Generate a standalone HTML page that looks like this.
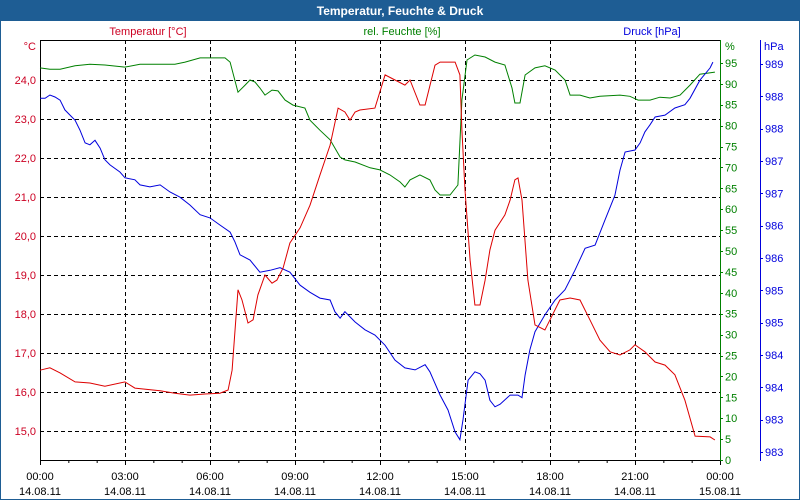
<!DOCTYPE html>
<html><head><meta charset="utf-8"><style>
body{margin:0;width:800px;height:500px;overflow:hidden;background:#fff;font-family:"Liberation Sans",sans-serif}
#win{position:absolute;left:0;top:0;width:798px;height:498px;border:1px solid #1e5d94;background:#fff}
#title{position:absolute;left:0;top:0;width:798px;height:20px;background:#1e5d94;color:#fff;font-weight:bold;font-size:12px;text-align:center;line-height:20px}
svg{position:absolute;left:0;top:0}
text{font-family:"Liberation Sans",sans-serif;font-size:11px}
</style></head><body>
<div id="win">
<div id="title">Temperatur, Feuchte &amp; Druck</div>
</div>
<svg id="c" width="800" height="500"></svg>
<script>
const xTicks=["00:00","03:00","06:00","09:00","12:00","15:00","18:00","21:00","00:00"];
const xDates=["14.08.11","14.08.11","14.08.11","14.08.11","14.08.11","14.08.11","14.08.11","14.08.11","15.08.11"];
const tempTicks=[15,16,17,18,19,20,21,22,23,24];
const humTicks=[0,5,10,15,20,25,30,35,40,45,50,55,60,65,70,75,80,85,90,95];
const presTickVals=[983,983.5,984,984.5,985,985.5,986,986.5,987,987.5,988,988.5,989];
const presTickLabels=["983","983","984","984","985","985","986","986","987","987","988","988","989"];
const tempT=[0,0.35,0.71,1.24,1.76,2.29,3.0,3.35,4.24,4.76,5.29,5.82,6.35,6.64,6.78,6.99,7.13,7.34,7.52,7.69,7.94,8.19,8.36,8.58,8.82,9.18,9.53,9.88,10.24,10.52,10.76,10.94,11.12,11.29,11.82,12.18,12.53,12.88,13.06,13.41,13.59,13.94,14.12,14.65,14.82,14.89,15.0,15.18,15.35,15.53,15.71,15.88,16.06,16.41,16.59,16.76,16.87,17.01,17.22,17.47,17.82,18.0,18.35,18.71,19.06,19.41,19.76,20.12,20.47,20.82,21.0,21.35,21.71,22.06,22.41,22.76,23.12,23.65,23.82];
const tempV=[16.56,16.62,16.49,16.26,16.23,16.15,16.26,16.10,16.03,15.97,15.92,15.95,15.97,16.05,16.56,18.62,18.36,17.77,17.85,18.49,19.0,18.79,18.87,19.18,19.82,20.21,20.79,21.56,22.33,23.28,23.18,22.97,23.18,23.23,23.28,24.13,24.0,23.87,24.0,23.36,23.36,24.38,24.46,24.46,24.13,22.72,21.18,19.38,18.23,18.23,18.87,19.64,20.15,20.54,20.92,21.44,21.49,20.92,18.87,17.72,17.59,17.85,18.36,18.41,18.36,17.85,17.33,17.03,16.95,17.08,17.21,17.03,16.77,16.69,16.44,15.79,14.87,14.85,14.77];
const humT=[0,0.35,0.71,1.24,1.76,2.29,3.0,3.53,4.76,5.12,5.65,6.53,6.71,6.99,7.24,7.41,7.59,7.76,7.94,8.19,8.4,8.65,8.93,9.35,9.53,9.88,10.24,10.59,10.76,11.12,11.65,12.0,12.35,12.71,12.88,13.06,13.41,13.76,13.94,14.12,14.47,14.75,14.89,15.07,15.35,15.71,16.06,16.41,16.66,16.76,16.94,17.12,17.47,17.82,18.18,18.53,18.71,19.06,19.41,19.76,20.47,20.82,21.11,21.53,21.88,22.24,22.59,22.94,23.29,23.82];
const humV=[93.8,93.5,93.5,94.3,94.7,94.5,94.0,94.7,94.7,95.2,96.2,96.2,95.2,88.0,89.7,90.9,90.4,89.0,87.3,88.5,88.3,86.1,84.9,84.2,81.3,78.9,76.6,72.5,71.8,71.3,69.9,69.4,68.2,66.5,65.3,67.0,68.2,67.0,64.6,63.4,63.4,65.8,86.1,95.7,96.9,96.4,95.2,94.5,89.0,85.4,85.4,92.1,93.8,94.3,93.3,90.9,87.3,87.3,86.6,87.0,87.3,87.0,86.1,86.1,86.8,86.6,87.3,89.7,92.3,92.8];
const presT=[0,0.18,0.35,0.53,0.71,0.88,1.06,1.24,1.41,1.59,1.76,1.94,2.12,2.29,2.47,2.82,3.0,3.35,3.53,3.88,4.24,4.59,4.94,5.29,5.65,6.0,6.35,6.71,6.88,7.06,7.41,7.76,8.12,8.47,8.82,9.18,9.53,9.88,10.24,10.41,10.59,10.76,11.12,11.47,11.82,12.18,12.53,12.88,13.24,13.59,13.76,14.12,14.4,14.65,14.82,14.93,15.11,15.35,15.53,15.71,15.88,16.06,16.24,16.59,16.87,17.01,17.12,17.29,17.47,17.82,18.18,18.53,18.88,19.24,19.59,19.94,20.29,20.47,20.65,21.0,21.18,21.35,21.53,21.71,22.06,22.41,22.76,22.94,23.29,23.65,23.75];
const presV=[988.47,988.47,988.52,988.49,988.44,988.29,988.21,988.13,987.98,987.78,987.75,987.82,987.70,987.52,987.44,987.33,987.24,987.21,987.13,987.10,987.13,987.02,986.94,986.82,986.67,986.62,986.51,986.40,986.25,986.05,985.97,985.78,985.81,985.85,985.78,985.58,985.47,985.38,985.35,985.17,985.07,985.17,985.01,984.89,984.81,984.65,984.42,984.30,984.27,984.35,984.24,983.88,983.65,983.31,983.19,983.50,984.11,984.24,984.21,984.11,983.80,983.70,983.74,983.88,983.88,983.84,984.19,984.58,984.86,985.12,985.35,985.51,985.81,986.15,986.20,986.59,986.97,987.36,987.64,987.67,987.78,987.95,988.06,988.18,988.21,988.32,988.37,988.47,988.75,988.94,989.03];

const L=40,R=720,T=40,B=460;
const X=h=>L+h*(R-L)/24;
const YT=v=>80+(24-v)*39;
const YH=v=>B-v*4.18;
const YP=v=>64+(989-v)*64.67;
const svg=document.getElementById('c');
const NS='http://www.w3.org/2000/svg';
function mk(tag,attrs,parent){const e=document.createElementNS(NS,tag);for(const k in attrs)e.setAttribute(k,attrs[k]);(parent||svg).appendChild(e);return e;}
function txt(s,x,y,fill,anchor){const e=mk('text',{x:x,y:y,fill:fill,'text-anchor':anchor||'start'});e.textContent=s;return e;}

// grid
const grid=mk('g',{stroke:'#000','stroke-dasharray':'4,3','stroke-width':1});


for(let i=1;i<8;i++){mk('line',{x1:X(i*3)+.5,x2:X(i*3)+.5,y1:T,y2:B},grid);}
tempTicks.forEach(v=>{const y=Math.round(YT(v))+.5;mk('line',{x1:L,x2:R,y1:y,y2:y},grid);});

// axes
const ax=mk('g',{});


mk('line',{x1:L+.5,x2:L+.5,y1:T,y2:B+3,stroke:'#000'},ax);
mk('line',{x1:L,x2:R,y1:T+.5,y2:T+.5,stroke:'#000'},ax);
mk('line',{x1:L,x2:R,y1:B+.5,y2:B+.5,stroke:'#000'},ax);
mk('line',{x1:R+.5,x2:R+.5,y1:T,y2:B+1,stroke:'#008000'},ax);
mk('line',{x1:760.5,x2:760.5,y1:T,y2:B+1,stroke:'#0000dd'},ax);
for(let h=0;h<=24;h++){mk('line',{x1:X(h)+.5,x2:X(h)+.5,y1:B,y2:B+(h%3?3:5),stroke:'#000'},ax);}

// x labels
xTicks.forEach((s,i)=>{
 const a=txt(s,X(i*3),480,'#000','middle');
 
 
 const b=txt(xDates[i],X(i*3),495,'#000','middle');
 
 
});
// temp labels
tempTicks.forEach(v=>{const e=txt(v.toFixed(1).replace('.',','),36,YT(v)+4,'#cc0022','end');
 
 });
const tu=txt('°C',36,50,'#cc0022','end');


// hum labels
humTicks.forEach(v=>{const y=YH(v);mk('line',{x1:R,x2:R+3,y1:Math.round(y)+.5,y2:Math.round(y)+.5,stroke:'#008000'});
 const e=txt(String(v),725,y+4,'#008000');
 
 });
const hu=txt('%',725,50,'#008000');


// pres labels
presTickVals.forEach((v,i)=>{const y=YP(v);mk('line',{x1:760,x2:763,y1:Math.round(y)+.5,y2:Math.round(y)+.5,stroke:'#0000dd'});
 const e=txt(presTickLabels[i],765,y+4,'#0000dd');
 
 });
const pu=txt('hPa',764,50,'#0000dd');


// series titles
const t1=txt('Temperatur [°C]',148,35,'#cc0022','middle');


const t2=txt('rel. Feuchte [%]',402,35,'#008000','middle');


const t3=txt('Druck [hPa]',652,35,'#0000dd','middle');



function line(ts,vs,yf,color,name){
 const pts=ts.map((t,i)=>X(t).toFixed(1)+','+yf(vs[i]).toFixed(1)).join(' ');
 const p=mk('polyline',{points:pts,fill:'none',stroke:color,'stroke-width':1});
 
 
}
line(humT,humV,YH,'#008000','humidity-line');
line(presT,presV,YP,'#0000dd','pressure-line');
line(tempT,tempV,YT,'#dd0000','temperature-line');
</script>
</body></html>
